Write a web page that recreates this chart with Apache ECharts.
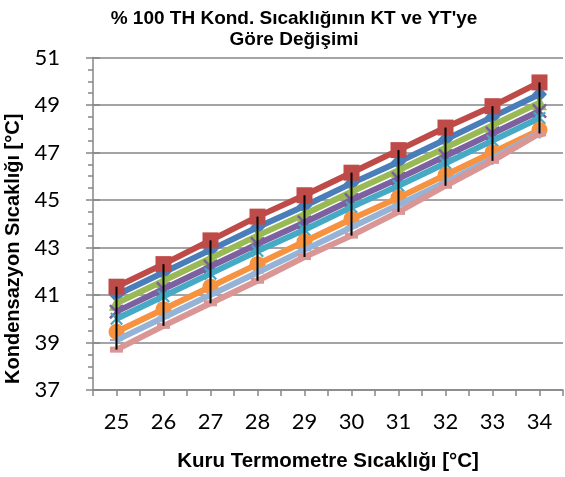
<!DOCTYPE html>
<html>
<head>
<meta charset="utf-8">
<script src="https://cdn.jsdelivr.net/npm/echarts@6/dist/echarts.min.js"></script>
<style>html,body{margin:0;padding:0;background:#fff}#c{width:565px;height:477px}</style>
</head>
<body>
<div id="c"></div>
<script>
var categories = [25, 26, 27, 28, 29, 30, 31, 32, 33, 34];
var blueVals   = [41.00, 41.95, 42.90, 43.85, 44.75, 45.70, 46.60, 47.55, 48.50, 49.45];
var redVals    = [41.35, 42.30, 43.30, 44.30, 45.20, 46.15, 47.10, 48.05, 48.95, 49.95];
var greenVals  = [40.65, 41.60, 42.55, 43.50, 44.40, 45.35, 46.25, 47.20, 48.15, 49.10];
var purpleVals = [40.30, 41.25, 42.20, 43.15, 44.05, 45.00, 45.90, 46.85, 47.80, 48.75];
var tealVals   = [40.00, 40.95, 41.90, 42.85, 43.75, 44.70, 45.60, 46.55, 47.50, 48.45];
var orangeVals = [39.45, 40.40, 41.35, 42.30, 43.25, 44.20, 45.10, 46.05, 47.00, 47.95];
var ltBlueVals = [39.10, 40.05, 41.00, 41.95, 42.90, 43.85, 44.80, 45.75, 46.75, 47.85];
var pinkVals   = [38.70, 39.70, 40.65, 41.60, 42.60, 43.50, 44.50, 45.60, 46.65, 47.80];
var yTicks = [37, 39, 41, 43, 45, 47, 49, 51];

var X_PATH = 'path://M0,1.2L1.2,0L5,3.8L8.8,0L10,1.2L6.2,5L10,8.8L8.8,10L5,6.2L1.2,10L0,8.8L3.8,5Z';
var STAR_PATH = 'path://M0,1.2L1.2,0L5,3.8L8.8,0L10,1.2L6.2,5L10,8.8L8.8,10L5,6.2L1.2,10L0,8.8L3.8,5Z M4.2,0L5.8,0L5.8,10L4.2,10Z';
var PLUS_PATH = 'path://M4.2,0L5.8,0L5.8,4.2L10,4.2L10,5.8L5.8,5.8L5.8,10L4.2,10L4.2,5.8L0,5.8L0,4.2L4.2,4.2Z';

var seriesDefs = [
  {vals: blueVals,   color: '#4A7EBB', symbol: 'diamond',  size: [15, 16]},
  {vals: redVals,    color: '#BE4B48', symbol: 'rect',     size: 16},
  {vals: greenVals,  color: '#98B954', symbol: 'triangle', size: 15},
  {vals: purpleVals, color: '#7D60A0', symbol: X_PATH,     size: 15},
  {vals: tealVals,   color: '#46AAC5', symbol: STAR_PATH,  size: 13},
  {vals: orangeVals, color: '#F69240', symbol: 'circle',   size: 16},
  {vals: ltBlueVals, color: '#95B3D7', symbol: PLUS_PATH,  size: 13},
  {vals: pinkVals,   color: '#D99694', symbol: 'rect',     size: [13, 6]}
];

function pairs(vals) { return categories.map(function (c, i) { return [c, vals[i]]; }); }

var series = seriesDefs.map(function (d, k) {
  return {
    type: 'line', data: pairs(d.vals), symbol: d.symbol, symbolSize: d.size,
    showAllSymbol: true, z: 2 + k,
    lineStyle: {color: d.color, width: 6},
    itemStyle: {color: d.color, opacity: 1},
    emphasis: {disabled: true}, animation: false
  };
});

var hiLo = categories.map(function (c, i) {
  var vs = seriesDefs.map(function (d) { return d.vals[i]; });
  return [c, Math.max.apply(null, vs), Math.min.apply(null, vs)];
});
series.push({
  type: 'custom', data: hiLo, z: 20, animation: false,
  renderItem: function (params, api) {
    var p1 = api.coord([api.value(0), api.value(1)]);
    var p2 = api.coord([api.value(0), api.value(2)]);
    return {type: 'line', shape: {x1: p1[0], y1: p1[1], x2: p2[0], y2: p2[1]},
            style: {stroke: '#000', lineWidth: 2}};
  }
});

var gray = '#868686';
var chart = echarts.init(document.getElementById('c'), null, {renderer: 'canvas'});
chart.setOption({
  backgroundColor: '#fff',
  animation: false,
  title: {
    text: "% 100 TH Kond. Sıcaklığının KT ve YT'ye\nGöre Değişimi",
    left: 289, top: 3, textAlign: 'center',
    textStyle: {fontFamily: 'Liberation Sans', fontWeight: 'bold', fontSize: 19, lineHeight: 21, color: '#000'}
  },
  grid: {left: 93, right: 2, top: 57.5, bottom: 87, containLabel: false, outerBoundsMode: 'none'},
  xAxis: {
    type: 'value', min: 24.5, max: 34.5, interval: 0.5,
    name: 'Kuru Termometre Sıcaklığı [°C]', nameLocation: 'middle', nameGap: 61,
    nameTextStyle: {fontFamily: 'Liberation Sans', fontWeight: 'bold', fontSize: 20.5, color: '#000'},
    axisLine: {lineStyle: {color: gray, width: 1.5}},
    axisTick: {show: true, length: 6, lineStyle: {color: gray, width: 1.5}},
    axisLabel: {
      margin: 21, fontFamily: 'Lato', fontSize: 22, color: '#000',
      formatter: function (v) { return Math.abs(v - Math.round(v)) < 1e-6 ? String(Math.round(v)) : ''; }
    },
    splitLine: {show: false}
  },
  yAxis: [{
    type: 'value', min: yTicks[0], max: yTicks[yTicks.length - 1], interval: 2,
    name: 'Kondensazyon Sıcaklığı [°C]', nameLocation: 'middle', nameGap: 60,
    nameTextStyle: {fontFamily: 'Liberation Sans', fontWeight: 'bold', fontSize: 20, color: '#000', padding: [0, 50, 0, 0]},
    axisLine: {show: true, lineStyle: {color: gray, width: 1.5}},
    axisTick: {show: true, length: 7, lineStyle: {color: gray, width: 1.5}},
    minorTick: {show: true, splitNumber: 4, length: 5, lineStyle: {color: gray, width: 1.5}},
    axisLabel: {margin: 33, fontFamily: 'Lato', fontSize: 22, color: '#000'},
    splitLine: {show: true, lineStyle: {color: gray, width: 1.5}}
  }, {
    type: 'value', min: yTicks[0], max: yTicks[yTicks.length - 1], interval: 2,
    position: 'left',
    axisLine: {show: false},
    axisTick: {show: true, inside: true, length: 7, lineStyle: {color: gray, width: 1.5}},
    axisLabel: {show: false},
    splitLine: {show: false}
  }],
  series: series
});
</script>
</body>
</html>
